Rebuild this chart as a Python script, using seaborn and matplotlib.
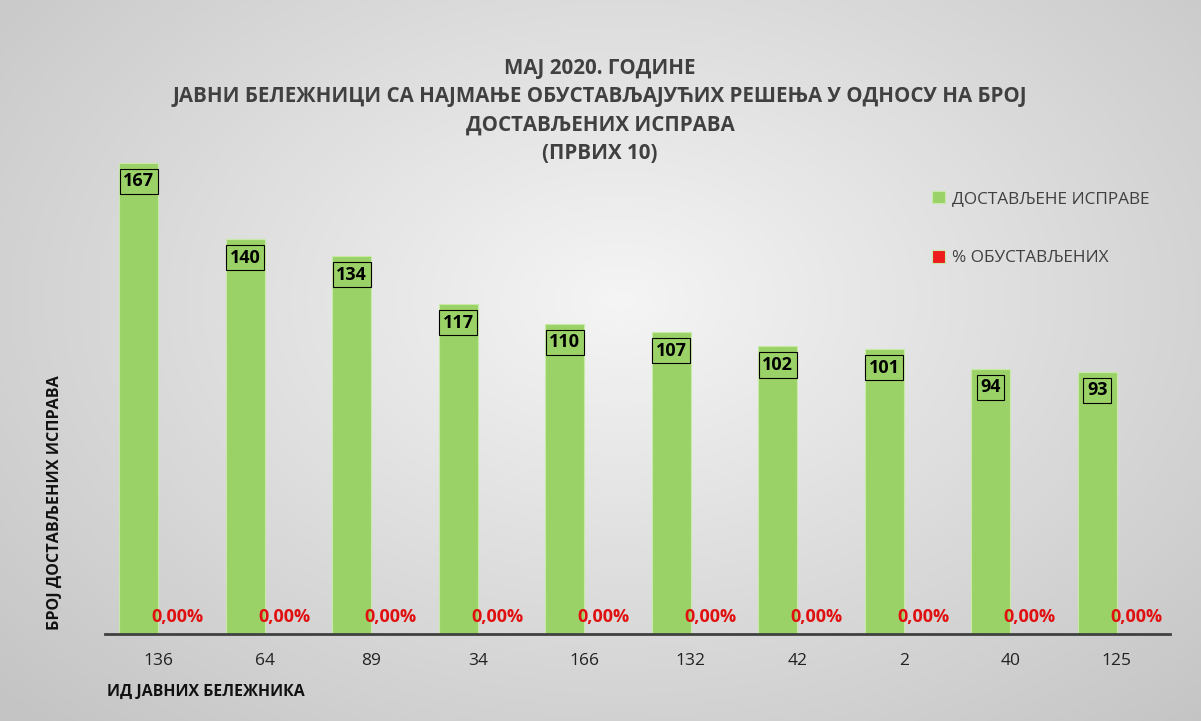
import numpy as np
import pandas as pd
import seaborn as sns
import matplotlib.pyplot as plt

# chart data
ids = ['136', '64', '89', '34', '166', '132', '42', '2', '40', '125']
delivered = [167, 140, 134, 117, 110, 107, 102, 101, 94, 93]
pct_stopped = [0.0, 0.0, 0.0, 0.0, 0.0, 0.0, 0.0, 0.0, 0.0, 0.0]
series = ['ДОСТАВЉЕНЕ ИСПРАВЕ', '% ОБУСТАВЉЕНИХ']

title_lines = ['МАЈ 2020. ГОДИНЕ',
               'ЈАВНИ БЕЛЕЖНИЦИ СА НАЈМАЊЕ ОБУСТАВЉАЈУЋИХ РЕШЕЊА У ОДНОСУ НА БРОЈ',
               'ДОСТАВЉЕНИХ ИСПРАВА',
               '(ПРВИХ 10)']

green = '#9BD267'
red = '#EE1C1C'
dark = '#404040'

df = pd.DataFrame({
    'id': ids * 2,
    'value': delivered + pct_stopped,
    'series': [series[0]] * len(ids) + [series[1]] * len(ids),
})

sns.set_style('white')
plt.rcParams['font.family'] = ['Open Sans', 'Noto Sans', 'DejaVu Sans']

fig = plt.figure(figsize=(12.01, 7.21), dpi=100)

# radial gradient background
bg = fig.add_axes([0, 0, 1, 1], zorder=-10)
yy, xx = np.mgrid[0:721, 0:1201]
r = np.sqrt(((xx - 620) / 760) ** 2 + ((yy - 300) / 520) ** 2)
shade = np.clip(0.96 - 0.17 * r, 0.77, 0.96)
bg.imshow(np.dstack([shade] * 3), aspect='auto', extent=[0, 1, 0, 1])
bg.axis('off')

ax = fig.add_axes([105 / 1201, 1 - 634 / 721, 1065 / 1201, (634 - 150) / 721])
ax.patch.set_alpha(0)
sns.barplot(data=df, x='id', y='value', hue='series', order=ids,
            hue_order=series, palette=[green, red], saturation=1, width=0.735,
            edgecolor='#c8eaa8', linewidth=0.8, ax=ax)
ax.set_ylim(0, 171.5)

# value labels in boxes
for p, v in zip(ax.containers[0], delivered):
    ax.annotate(f'{v}', (p.get_x() + p.get_width() / 2, v), xytext=(0, -13.5),
                textcoords='offset points', ha='center', va='center',
                fontsize=13, fontweight='bold', color='black',
                bbox=dict(boxstyle='square,pad=0.2', fc=green, ec='black', lw=0.8))

# percentage labels
for p, v in zip(ax.containers[1], pct_stopped):
    ax.annotate(f'{v:.2f}%'.replace('.', ','), (p.get_x() + p.get_width() / 2, 0),
                xytext=(0, 12.5), textcoords='offset points', ha='center',
                va='center', fontsize=13, fontweight='bold', color='#E01010')

sns.despine(ax=ax, left=True)
ax.spines['bottom'].set_color(dark)
ax.spines['bottom'].set_linewidth(2)
ax.set_yticks([])
ax.tick_params(axis='x', length=0, pad=14, labelsize=12.5, labelcolor='#222222')
ax.set_xlabel('')
ax.set_ylabel('')

leg = ax.legend(loc='upper left', bbox_to_anchor=(0.762, 0.948), frameon=False,
                fontsize=12.4, labelspacing=2.5, handlelength=0.75, handleheight=0.75,
                handletextpad=0.4, labelcolor=dark)

fig.text(600 / 1201, 1 - 111 / 721, '\n'.join(title_lines), ha='center', va='center',
         fontsize=14.8, fontweight='bold', color=dark, linespacing=1.45)
fig.text(55 / 1201, 1 - 503 / 721, 'БРОЈ ДОСТАВЉЕНИХ ИСПРАВА', rotation=90,
         ha='center', va='center', fontsize=11.6, fontweight='bold', color='#111111')
fig.text(107 / 1201, 1 - 692 / 721, 'ИД ЈАВНИХ БЕЛЕЖНИКА', ha='left', va='center',
         fontsize=11.4, fontweight='bold', color='#111111')

fig.savefig('out.png', dpi=100)
